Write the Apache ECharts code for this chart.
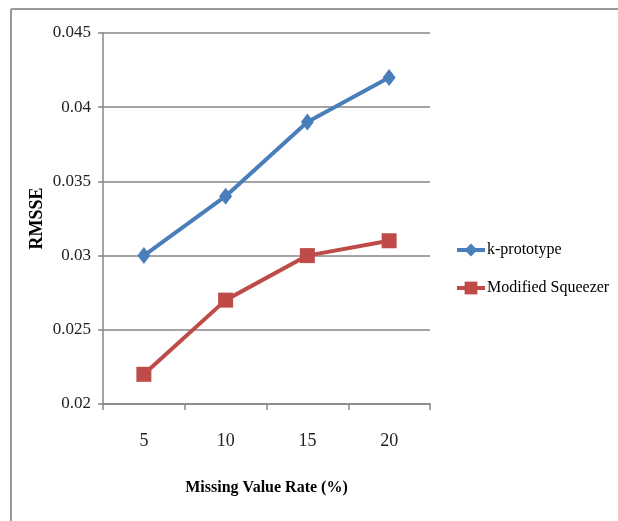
<!DOCTYPE html>
<html>
<head>
<meta charset="utf-8">
<script src="https://cdn.jsdelivr.net/npm/echarts@6/dist/echarts.min.js"></script>
<style>html,body{margin:0;padding:0;background:#fff}#c{width:618px;height:521px}</style>
</head>
<body>
<div id="c"></div>
<script>
var categories = ['5', '10', '15', '20'];
var kPrototype = [0.030, 0.034, 0.039, 0.042];
var modifiedSqueezer = [0.022, 0.027, 0.030, 0.031];
var seriesNames = ['k-prototype', 'Modified Squeezer'];
var xAxisTitle = 'Missing Value Rate (%)';
var yAxisTitle = 'RMSSE';

var chart = echarts.init(document.getElementById('c'));
var font = 'Liberation Serif, Times New Roman, serif';
chart.setOption({
  animation: false,
  backgroundColor: '#fff',
  graphic: [
    {type: 'line', shape: {x1: 11, y1: 9, x2: 618, y2: 9}, style: {stroke: '#9a9a9a', lineWidth: 2}},
    {type: 'line', shape: {x1: 11, y1: 9, x2: 11, y2: 521}, style: {stroke: '#9a9a9a', lineWidth: 2}}
  ],
  grid: {left: 103, top: 33, right: 188, bottom: 117, containLabel: false},
  legend: {
    orient: 'vertical', left: 450, top: 237, itemGap: 22, itemWidth: 28, itemHeight: 16,
    data: seriesNames,
    lineStyle: {width: 4},
    textStyle: {fontFamily: font, fontSize: 16, color: '#000', padding: [0, 0, 0, -3]}
  },
  xAxis: {
    type: 'category', data: categories, boundaryGap: true,
    name: xAxisTitle, nameLocation: 'middle', nameGap: 76, nameMoveOverlap: false,
    nameTextStyle: {fontFamily: font, fontSize: 16, fontWeight: 'bold', color: '#000'},
    axisLine: {lineStyle: {color: '#868686', width: 1.5}},
    axisTick: {show: true, length: 6, lineStyle: {color: '#868686', width: 1.5}},
    axisLabel: {fontFamily: font, fontSize: 18, color: '#222', margin: 28}
  },
  yAxis: {
    type: 'value', min: 0.02, max: 0.045, interval: 0.005,
    name: yAxisTitle, nameLocation: 'middle', nameGap: 57, nameMoveOverlap: false,
    nameTextStyle: {fontFamily: font, fontSize: 18, fontWeight: 'bold', color: '#000'},
    axisLine: {show: true, lineStyle: {color: '#868686', width: 1.5}},
    axisTick: {show: true, length: 5, lineStyle: {color: '#868686', width: 1.5}},
    splitLine: {show: true, lineStyle: {color: '#868686', width: 1.5}},
    axisLabel: {fontFamily: font, fontSize: 17, color: '#222', margin: 12,
      formatter: function (v) { return String(+v.toFixed(3)); }}
  },
  series: [
    {name: seriesNames[0], type: 'line', data: kPrototype, symbol: 'diamond', symbolSize: [13, 17],
      lineStyle: {color: '#4a7ebb', width: 4}, itemStyle: {color: '#4a7ebb'}},
    {name: seriesNames[1], type: 'line', data: modifiedSqueezer, symbol: 'rect', symbolSize: 15,
      lineStyle: {color: '#be4b48', width: 4}, itemStyle: {color: '#be4b48'}}
  ]
});
</script>
</body>
</html>
